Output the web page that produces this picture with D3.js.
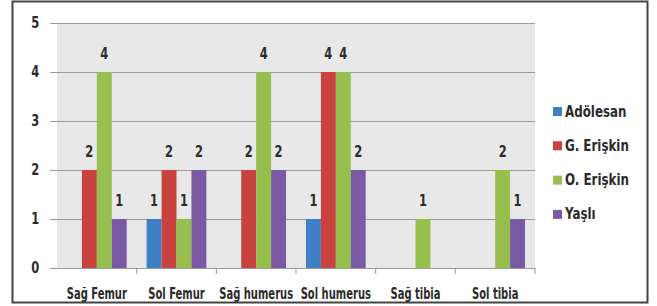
<!DOCTYPE html>
<html>
<head>
<meta charset="utf-8">
<script src="https://cdn.jsdelivr.net/npm/d3@7"></script>
<style>
  body { margin: 0; background: #fff; }
  text { font-family: "DejaVu Sans Condensed", "DejaVu Sans", sans-serif; font-weight: bold; fill: #2b2b2b; }
</style>
</head>
<body>
<script>
let w = 657;
let h = 306;

let categories = ['Sağ Femur', 'Sol Femur', 'Sağ humerus', 'Sol humerus', 'Sağ tibia', 'Sol tibia'];
let seriesNames = ['Adölesan', 'G. Erişkin', 'O. Erişkin', 'Yaşlı'];
let adolesan = [0, 1, 0, 1, 0, 0];
let gErişkin = [2, 2, 2, 4, 0, 0];
let oErişkin = [4, 1, 4, 4, 1, 2];
let yasli = [1, 2, 2, 2, 0, 1];
let yTicks = [0, 1, 2, 3, 4, 5];

let seriesValues = [adolesan, gErişkin, oErişkin, yasli];
let colors = ['#3f7fc6', '#c8423f', '#96bf4e', '#7a5aa5'];

let plot = { left: 57, right: 535, top: 23, bottom: 268 };

let svg = d3.select('body')
  .append('svg')
  .attr('width', w)
  .attr('height', h);

// outer frame
svg.append('rect')
  .attr('x', 12.5)
  .attr('y', 1.5)
  .attr('width', 635)
  .attr('height', 301)
  .attr('fill', '#fff')
  .attr('stroke', '#444')
  .attr('stroke-width', 2);

let xScale = d3.scaleBand()
  .domain(categories)
  .range([plot.left, plot.right]);

let xInner = d3.scaleBand()
  .domain(seriesNames)
  .range([0, xScale.bandwidth()])
  .paddingOuter(0.667);

let yScale = d3.scaleLinear()
  .domain([0, 5])
  .range([plot.bottom, plot.top]);

// plot background
svg.append('rect')
  .attr('x', plot.left)
  .attr('y', plot.top)
  .attr('width', plot.right - plot.left)
  .attr('height', plot.bottom - plot.top)
  .attr('fill', '#e8e8e8');

// gridlines + y ticks
let yAxis = d3.axisLeft(yScale)
  .tickValues(yTicks)
  .tickSize(7)
  .tickPadding(14)
  .tickFormat(d3.format('d'));

let gy = svg.append('g')
  .attr('transform', 'translate(' + plot.left + ', 0)')
  .call(yAxis);
gy.select('.domain').remove();
gy.selectAll('.tick line').attr('stroke', '#999');
gy.selectAll('.tick text')
  .style('font-size', '15px')
  .attr('fill', '#2b2b2b')
  .attr('transform', 'scale(0.85, 1)');

svg.append('g')
  .selectAll('line')
  .data(yTicks)
  .enter()
  .append('line')
  .attr('x1', plot.left)
  .attr('x2', plot.right)
  .attr('y1', (d) => { return yScale(d) + 0.5; })
  .attr('y2', (d) => { return yScale(d) + 0.5; })
  .attr('stroke', '#9a9a9a')
  .attr('stroke-width', 1.2);

// x axis with tick marks at band boundaries
let xAxis = d3.axisBottom(xScale)
  .tickSize(0)
  .tickPadding(20);

let gx = svg.append('g')
  .attr('transform', 'translate(0, ' + plot.bottom + ')')
  .call(xAxis);
gx.select('.domain').remove();
// squeeze the labels horizontally, the source font is a narrow one
gx.selectAll('.tick text')
  .style('font-size', '15px')
  .attr('fill', '#2b2b2b')
  .attr('transform', 'scale(0.74, 1)');

svg.append('g')
  .selectAll('line')
  .data(categories.slice(1).concat([null]))
  .enter()
  .append('line')
  .attr('x1', (d) => { return d === null ? plot.right : xScale(d); })
  .attr('x2', (d) => { return d === null ? plot.right : xScale(d); })
  .attr('y1', plot.bottom)
  .attr('y2', plot.bottom + 6)
  .attr('stroke', '#999');

// bars
let groups = svg.append('g')
  .selectAll('g')
  .data(seriesValues)
  .enter()
  .append('g')
  .attr('fill', (d, i) => { return colors[i]; });

groups.selectAll('rect')
  .data((d, i) => { return d.map((v, j) => { return { v: v, c: categories[j], s: seriesNames[i] }; }); })
  .enter()
  .append('rect')
  .attr('x', (d) => { return xScale(d.c) + xInner(d.s); })
  .attr('y', (d) => { return yScale(d.v); })
  .attr('width', xInner.bandwidth())
  .attr('height', (d) => { return yScale(0) - yScale(d.v); });

groups.selectAll('text')
  .data((d, i) => { return d.map((v, j) => { return { v: v, c: categories[j], s: seriesNames[i] }; }).filter((e) => { return e.v > 0; }); })
  .enter()
  .append('text')
  .attr('transform', (d) => {
    let cx = xScale(d.c) + xInner(d.s) + xInner.bandwidth() / 2;
    return 'translate(' + cx + ', ' + (yScale(d.v) - 13) + ') scale(0.85, 1)';
  })
  .attr('text-anchor', 'middle')
  .style('font-size', '15px')
  .attr('fill', '#2b2b2b')
  .text((d) => { return d.v; });

// legend
let legend = svg.append('g')
  .selectAll('g')
  .data(seriesNames)
  .enter()
  .append('g')
  .attr('transform', (d, i) => { return 'translate(553, ' + (111 + i * 34.3) + ')'; });

legend.append('rect')
  .attr('x', 0)
  .attr('y', -4)
  .attr('width', 9)
  .attr('height', 9)
  .attr('fill', (d, i) => { return colors[i]; });

legend.append('text')
  .attr('transform', 'translate(12, 5.5) scale(0.88, 1)')
  .style('font-size', '15px')
  .attr('fill', '#2b2b2b')
  .text((d) => { return d; });
</script>
</body>
</html>
